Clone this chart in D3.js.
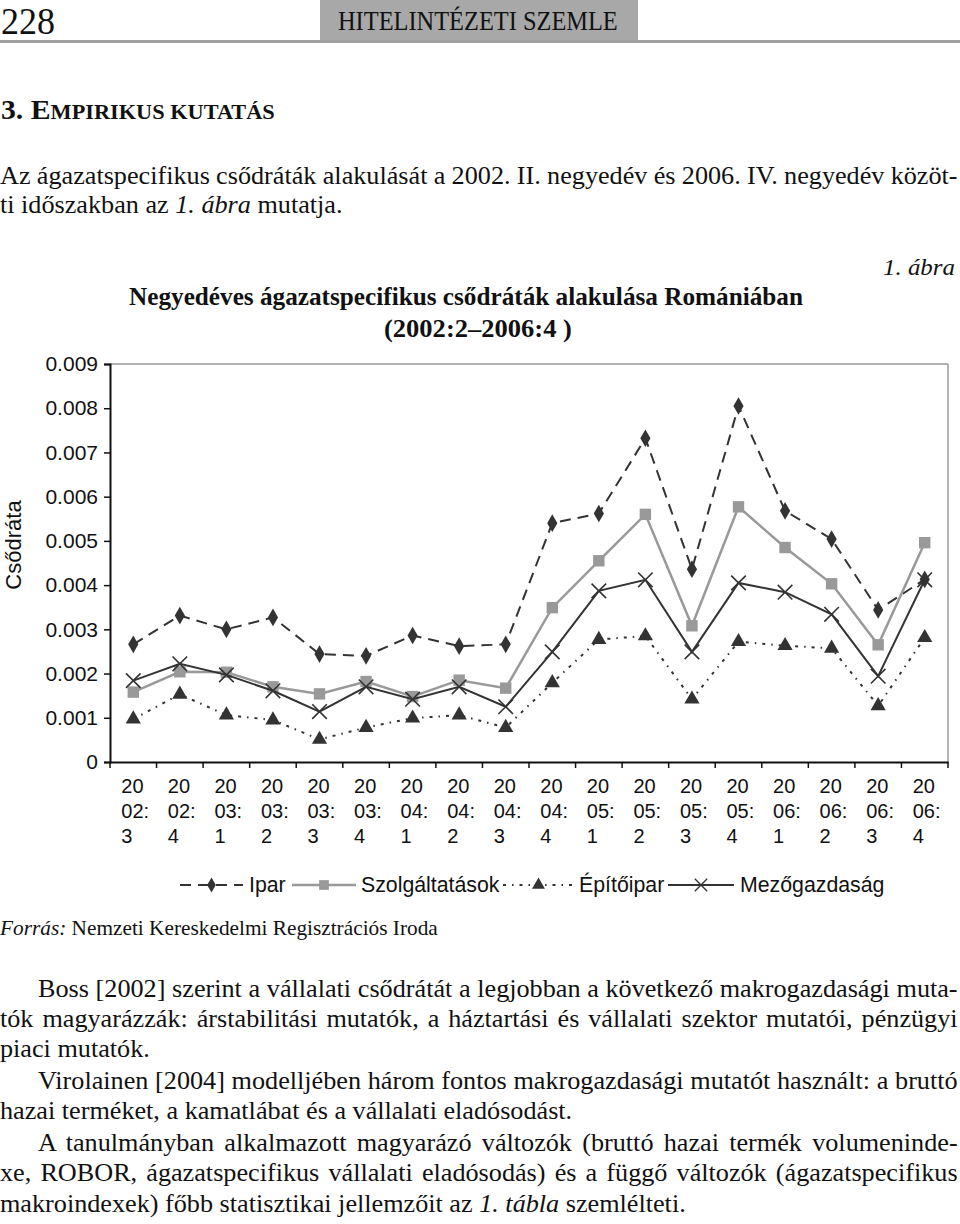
<!DOCTYPE html>
<html>
<head>
<meta charset="utf-8">
<script src="https://cdn.jsdelivr.net/npm/d3@7"></script>
<style>
  body { margin: 0; background: #fff; }
  svg { display: block; }
</style>
</head>
<body>
<script>
// quarters shown on the x axis (2002:3 .. 2006:4)
var quarters = ['2002:3', '2002:4', '2003:1', '2003:2', '2003:3', '2003:4',
                '2004:1', '2004:2', '2004:3', '2004:4', '2005:1', '2005:2',
                '2005:3', '2005:4', '2006:1', '2006:2', '2006:3', '2006:4'];

// quarterly bankruptcy rates per sector
var ipar = [0.00266, 0.00331, 0.00300, 0.00327, 0.00244, 0.00240, 0.00286, 0.00262, 0.00266,
            0.00540, 0.00562, 0.00732, 0.00436, 0.00805, 0.00568, 0.00504, 0.00344, 0.00413];
var szolgaltatasok = [0.00158, 0.00204, 0.00203, 0.00170, 0.00154, 0.00182, 0.00148, 0.00185, 0.00167,
                      0.00349, 0.00455, 0.00560, 0.00308, 0.00577, 0.00485, 0.00403, 0.00265, 0.00496];
var epitoipar = [0.00097, 0.00153, 0.00106, 0.00095, 0.00051, 0.00078, 0.00099, 0.00106, 0.00078,
                 0.00179, 0.00277, 0.00285, 0.00142, 0.00272, 0.00263, 0.00257, 0.00127, 0.00281];
var mezogazdasag = [0.00184, 0.00222, 0.00197, 0.00161, 0.00114, 0.00170, 0.00142, 0.00170, 0.00125,
                    0.00249, 0.00387, 0.00412, 0.00249, 0.00405, 0.00384, 0.00334, 0.00194, 0.00412];

var seriesNames = ['Ipar', 'Szolgáltatások', 'Építőipar', 'Mezőgazdaság'];
var yTicks = [0, 0.001, 0.002, 0.003, 0.004, 0.005, 0.006, 0.007, 0.008, 0.009];

var serif = '"Liberation Serif", "Times New Roman", serif',
    sans = '"Liberation Sans", Arial, sans-serif';

var svg = d3.select('body').append('svg')
    .attr('width', 960)
    .attr('height', 1224);

// a serif text element, parts between *...* are italic
function serifText(str, size, weight) {
    var t = svg.append('text')
        .attr('font-family', serif)
        .attr('font-size', size)
        .attr('font-weight', weight || 'normal')
        .attr('fill', '#111');

    str.split('*').forEach(function (p, i) {
        if (p.length)
            t.append('tspan').attr('font-style', i % 2 ? 'italic' : 'normal').text(p);
    });

    return t;
}

// squeeze/stretch a line so it spans x0..x1
function textLine(str, x0, x1, y, size, weight) {
    var t = serifText(str, size, weight);
    var w = t.node().getComputedTextLength();
    t.attr('transform', 'translate(' + x0 + ',' + y + ') scale(' + ((x1 - x0) / w) + ',1)');
    return t;
}

// body text: common glyph condensing k, justified lines get extra word spacing
var bodySize = 25;
var bodyK = (function () {
    var t = serifText('makroindexek) főbb statisztikai jellemzőit az *1. tábla* szemlélteti.', bodySize);
    var w = t.node().getComputedTextLength();
    t.remove();
    return 686 / w;
})();

function bodyLine(str, x0, x1, y) {
    var t = serifText(str, bodySize);
    if (x1) {
        var w = t.node().getComputedTextLength(),
            n = str.split(' ').length - 1;
        t.attr('word-spacing', ((x1 - x0) / bodyK - w) / n);
    }
    t.attr('transform', 'translate(' + x0 + ',' + y + ') scale(' + bodyK + ',1)');
    return t;
}

// page header
svg.append('rect').attr('x', 320).attr('y', 0).attr('width', 318).attr('height', 41).attr('fill', '#a8a8a8');
svg.append('rect').attr('x', 0).attr('y', 40).attr('width', 960).attr('height', 3).attr('fill', '#a0a0a0');
textLine('228', 1, 55, 34, 37);
textLine('HITELINTÉZETI SZEMLE', 338, 618, 30, 27);

// section title in small caps
(function () {
    var t = svg.append('text')
        .attr('font-family', serif)
        .attr('font-weight', 'bold')
        .attr('fill', '#111');
    t.append('tspan').attr('font-size', 28).text('3. E');
    t.append('tspan').attr('font-size', 21).text('MPIRIKUS KUTATÁS');
    var w = t.node().getComputedTextLength();
    t.attr('transform', 'translate(1,119) scale(' + (274 / w) + ',1)');
})();

bodyLine('Az ágazatspecifikus csődráták alakulását a 2002. II. negyedév és 2006. IV. negyedév közöt-', 0, 958, 184);
bodyLine('ti időszakban az *1. ábra* mutatja.', 0, null, 213);

textLine('*1. ábra*', 883, 955, 275, 24);
textLine('Negyedéves ágazatspecifikus csődráták alakulása Romániában', 129, 803, 305, 25, 'bold');
textLine('(2002:2–2006:4 )', 384, 572, 337, 25, 'bold');

// chart
var margin = {left: 110, top: 364, right: 948, bottom: 762};

var x = d3.scaleBand()
    .domain(quarters)
    .range([margin.left, margin.right]);

var y = d3.scaleLinear()
    .domain([0, 0.009])
    .range([margin.bottom, margin.top]);

// plot frame: grey top and right border
svg.append('line')
    .attr('x1', margin.left).attr('x2', margin.right)
    .attr('y1', margin.top).attr('y2', margin.top)
    .attr('stroke', '#999').attr('stroke-width', 1.5);
svg.append('line')
    .attr('x1', margin.right).attr('x2', margin.right)
    .attr('y1', margin.top).attr('y2', margin.bottom)
    .attr('stroke', '#999').attr('stroke-width', 1.5);

var yAxis = svg.append('g')
    .attr('transform', 'translate(' + margin.left + ',0)')
    .call(d3.axisLeft(y)
        .tickValues(yTicks)
        .tickSize(6)
        .tickPadding(6)
        .tickFormat(function (d) { return d === 0 ? '0' : d3.format('.3f')(d); }));
yAxis.select('.domain').attr('stroke', '#111').attr('stroke-width', 2);
yAxis.selectAll('.tick line').attr('stroke', '#111').attr('stroke-width', 1.5);
yAxis.selectAll('.tick text')
    .attr('font-family', sans)
    .attr('font-size', 21)
    .attr('fill', '#111');

var xAxis = svg.append('g')
    .attr('transform', 'translate(0,' + margin.bottom + ')')
    .call(d3.axisBottom(x).tickSize(0).tickFormat(''));
xAxis.select('.domain').attr('stroke', '#111').attr('stroke-width', 2);

// tick marks sit between the categories
svg.append('g').selectAll('line')
    .data(quarters.concat(['end']))
    .enter().append('line')
    .attr('x1', function (d, i) { return i < quarters.length ? x(d) : margin.right; })
    .attr('x2', function (d, i) { return i < quarters.length ? x(d) : margin.right; })
    .attr('y1', margin.bottom)
    .attr('y2', margin.bottom + 6)
    .attr('stroke', '#111')
    .attr('stroke-width', 1.5);

// wrapped category labels: "20" / "02:" / "3"
var xLabels = svg.append('g').selectAll('text')
    .data(quarters)
    .enter().append('text')
    .attr('font-family', sans)
    .attr('font-size', 20)
    .attr('fill', '#111');
[[0, 2, 793], [2, 5, 818], [5, 6, 843]].forEach(function (p) {
    xLabels.append('tspan')
        .attr('x', function (d) { return x(d) + x.bandwidth() / 2 - 12; })
        .attr('y', p[2])
        .text(function (d) { return d.slice(p[0], p[1]); });
});

svg.append('text')
    .attr('font-family', sans)
    .attr('font-size', 22)
    .attr('fill', '#111')
    .attr('text-anchor', 'middle')
    .attr('transform', 'translate(21,545) rotate(-90)')
    .text('Csődráta');

var styles = [
    {values: ipar, stroke: '#333', width: 2, dash: '11,7', marker: 'diamond', fill: '#333'},
    {values: szolgaltatasok, stroke: '#999', width: 2.5, dash: null, marker: 'square', fill: '#999'},
    {values: epitoipar, stroke: '#333', width: 2, dash: '3,6,1.5,6', marker: 'triangle', fill: '#333'},
    {values: mezogazdasag, stroke: '#333', width: 2, dash: null, marker: 'cross', fill: '#333'}
];

var symbols = {
    diamond: d3.symbol().type(d3.symbolDiamond).size(90),
    square: d3.symbol().type(d3.symbolSquare).size(130),
    triangle: d3.symbol().type(d3.symbolTriangle).size(100),
    cross: d3.symbol().type(d3.symbolTimes).size(140)
};

function drawMarker(g, s, cx, cy, scale) {
    var p = g.append('path')
        .attr('d', symbols[s.marker]())
        .attr('transform', 'translate(' + cx + ',' + cy + ') scale(' + (scale || 1) + ')');
    if (s.marker === 'cross')
        p.attr('fill', 'none').attr('stroke', s.stroke).attr('stroke-width', 1.6);
    else
        p.attr('fill', s.fill);
}

var line = d3.line()
    .x(function (d, i) { return x(quarters[i]) + x.bandwidth() / 2; })
    .y(function (d) { return y(d); });

styles.forEach(function (s) {
    var g = svg.append('g');
    g.append('path')
        .datum(s.values)
        .attr('d', line)
        .attr('fill', 'none')
        .attr('stroke', s.stroke)
        .attr('stroke-width', s.width)
        .attr('stroke-dasharray', s.dash);
    s.values.forEach(function (v, i) {
        drawMarker(g, s, x(quarters[i]) + x.bandwidth() / 2, y(v));
    });
});

// legend
var legendPos = [
    {x1: 180, x2: 243, tx: 249},
    {x1: 292, x2: 356, tx: 361},
    {x1: 503, x2: 574, tx: 579},
    {x1: 668, x2: 734, tx: 740}
];
var legendY = 885;

seriesNames.forEach(function (name, i) {
    var s = styles[i], p = legendPos[i];
    var g = svg.append('g');
    g.append('line')
        .attr('x1', p.x1).attr('x2', p.x2)
        .attr('y1', legendY).attr('y2', legendY)
        .attr('stroke', s.stroke)
        .attr('stroke-width', s.width)
        .attr('stroke-dasharray', s.dash);
    drawMarker(g, s, (p.x1 + p.x2) / 2, legendY, 0.85);
    g.append('text')
        .attr('x', p.tx)
        .attr('y', legendY + 7)
        .attr('font-family', sans)
        .attr('font-size', 21.3)
        .attr('fill', '#111')
        .text(name);
});

// source and body text
textLine('*Forrás:* Nemzeti Kereskedelmi Regisztrációs Iroda', 0, 438, 935, 20);

var bodyLines = [
    ['Boss [2002] szerint a vállalati csődrátát a legjobban a következő makrogazdasági muta-', 38, 958],
    ['tók magyarázzák: árstabilitási mutatók, a háztartási és vállalati szektor mutatói, pénzügyi', 0, 958],
    ['piaci mutatók.', 0, null],
    ['Virolainen [2004] modelljében három fontos makrogazdasági mutatót használt: a bruttó', 38, 958],
    ['hazai terméket, a kamatlábat és a vállalati eladósodást.', 0, null],
    ['A tanulmányban alkalmazott magyarázó változók (bruttó hazai termék volumeninde-', 38, 958],
    ['xe, ROBOR, ágazatspecifikus vállalati eladósodás) és a függő változók (ágazatspecifikus', 0, 958],
    ['makroindexek) főbb statisztikai jellemzőit az *1. tábla* szemlélteti.', 0, null]
];
var bodyY = [997, 1027, 1057, 1089, 1119, 1151, 1181, 1212];

bodyLines.forEach(function (l, i) {
    bodyLine(l[0], l[1], l[2], bodyY[i]);
});
</script>
</body>
</html>
